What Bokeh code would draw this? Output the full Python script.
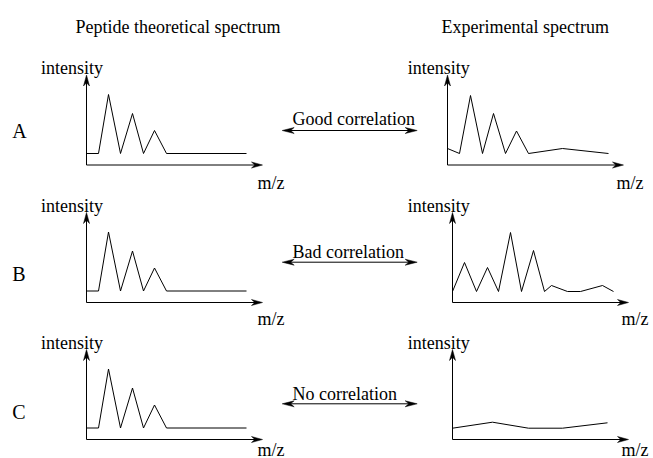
from bokeh.plotting import figure
from bokeh.models import Range1d
from bokeh.embed import file_html
from bokeh.resources import INLINE
from bokeh.core.properties import value

# ---- data ----
rows = ["A", "B", "C"]
correlations = ["Good correlation", "Bad correlation", "No correlation"]
titles = ["Peptide theoretical spectrum", "Experimental spectrum"]
y_label = "intensity"
x_label = "m/z"

# theoretical spectrum (same for all rows): m/z offset, intensity
theo_mz = [0, 12, 22, 34, 46, 57, 68, 80, 160]
theo_int = [11.5, 11.5, 70.5, 11.5, 51.5, 11.5, 34.5, 11.5, 11.5]

# experimental spectra
exp_a_mz = [0, 12, 23, 35, 46, 58, 69, 81, 115, 161]
exp_a_int = [16.5, 11.5, 69.5, 11.5, 51.5, 11.5, 34, 11.5, 16.5, 11.5]
exp_b_mz = [0, 12, 24, 35, 46, 58, 69, 81, 92, 99, 115, 128, 150, 161]
exp_b_int = [11, 40, 11, 35, 11, 70, 11, 52, 11, 17, 11, 11, 17, 11]
exp_c_mz = [0, 40, 76, 110, 155]
exp_c_int = [11.3, 17.3, 11.3, 11.3, 16.7]
exp_mz = [exp_a_mz, exp_b_mz, exp_c_mz]
exp_int = [exp_a_int, exp_b_int, exp_c_int]

# ---- layout (reference pixel frame) ----
theo_x0 = 86
exp_x0 = [447, 452, 452]
axis_y0 = [164.5, 302, 439]
yaxis_len = 90
xaxis_len = 176

FONT = value("Liberation Serif")

p = figure(width=653, height=458, output_backend="svg", toolbar_location=None,
           x_range=Range1d(0, 653), y_range=Range1d(458, 0),
           min_border=0)
p.axis.visible = False
p.grid.visible = False
p.outline_line_color = None
p.background_fill_color = "white"
p.border_fill_color = "white"


def head(tx, ty, dx, dy, L, W):
    nx, ny = -dy, dx
    bx, by = tx - L * dx, ty - L * dy
    return ([tx, bx + W / 2 * nx, tx - 0.7 * L * dx, bx - W / 2 * nx],
            [ty, by + W / 2 * ny, ty - 0.7 * L * dy, by - W / 2 * ny])


shaft_xs, shaft_ys, head_xs, head_ys = [], [], [], []


def add_axes(ox, oy):
    # y axis
    shaft_xs.append([ox, ox]); shaft_ys.append([oy, oy - yaxis_len + 7])
    hx, hy = head(ox, oy - yaxis_len, 0, -1, 11, 6)
    head_xs.append(hx); head_ys.append(hy)
    # x axis
    shaft_xs.append([ox, ox + xaxis_len - 7]); shaft_ys.append([oy, oy])
    hx, hy = head(ox + xaxis_len, oy, 1, 0, 11, 6)
    head_xs.append(hx); head_ys.append(hy)


spec_xs, spec_ys = [], []
for i in range(3):
    oy = axis_y0[i]
    add_axes(theo_x0, oy)
    add_axes(exp_x0[i], oy)
    spec_xs.append([theo_x0 + m for m in theo_mz])
    spec_ys.append([oy - v for v in theo_int])
    spec_xs.append([exp_x0[i] + m for m in exp_mz[i]])
    spec_ys.append([oy - v for v in exp_int[i]])

# double arrows
arrow_y = [130, 261.7, 403.3]
ax0, ax1 = 281.7, 416.7
for y in arrow_y:
    shaft_xs.append([ax0 + 8, ax1 - 8]); shaft_ys.append([y, y])
    hx, hy = head(ax1, y, 1, 0, 12, 6)
    head_xs.append(hx); head_ys.append(hy)
    hx, hy = head(ax0, y, -1, 0, 12, 6)
    head_xs.append(hx); head_ys.append(hy)

p.multi_line(shaft_xs, shaft_ys, line_color="black", line_width=1)
p.patches(head_xs, head_ys, fill_color="black", line_color="black", line_width=0.5)
p.multi_line(spec_xs, spec_ys, line_color="black", line_width=1)

# titles
p.text(x=[75, 441], y=[26, 26], text=titles, text_font=FONT,
       text_font_size="18px", text_baseline="alphabetic", text_color="black")

# intensity labels
lab_x, lab_y = [], []
for i in range(3):
    lab_x += [40.5, 407.3]
    lab_y += [axis_y0[i] - 97, axis_y0[i] - 97]
p.text(x=lab_x, y=lab_y, text=[y_label] * 6, text_font=FONT,
       text_font_size="18px", text_baseline="alphabetic", text_color="black")

# m/z labels
mz_dy = [18, 16, 10]
mz_x, mz_y = [], []
for i in range(3):
    mz_x += [theo_x0 + xaxis_len - 5, exp_x0[i] + xaxis_len - 7]
    mz_y += [axis_y0[i] + mz_dy[i], axis_y0[i] + mz_dy[i]]
p.text(x=mz_x, y=mz_y, text=[x_label] * 6, text_font=FONT,
       text_font_size="18px", text_baseline="alphabetic", text_color="black")

# row labels
p.text(x=[11.7] * 3, y=[130, 273.3, 411.7], text=rows, text_font=FONT,
       text_font_size="20px", text_baseline="alphabetic", text_color="black")

# correlation labels
p.text(x=[292] * 3, y=[118.3, 251, 393.3], text=correlations, text_font=FONT,
       text_font_size="18px", text_baseline="alphabetic", text_color="black")

open("out.html", "w").write(file_html(p, INLINE))
